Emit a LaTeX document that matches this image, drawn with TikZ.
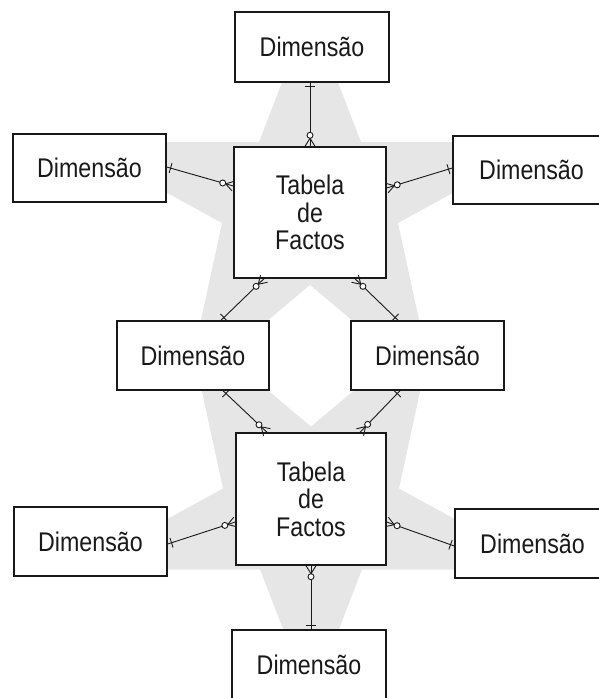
\documentclass[tikz,border=0pt]{standalone}
\usepackage{fontspec}
\setmainfont{Liberation Sans}[FakeStretch=0.86]
\usetikzlibrary{calc}

\definecolor{starfill}{RGB}{230,230,230}
\definecolor{ink}{RGB}{25,25,25}

\tikzset{
  box/.style={draw=ink, line width=1.4pt, fill=white, inner sep=0pt,
    text=ink, font=\fontsize{27}{27.5}\selectfont, align=center},
  link/.style={draw=ink, line width=0.9pt},
  starshape/.style={fill=starfill, draw=none},
}

% ER connector: single bar at the dimension end (#1),
% ring and crow's foot at the fact-table end (#2)
\newcommand\erlink[2]{%
  \draw[link] (#1) -- (#2);
  \draw[link] ($(#1)!4pt!(#2)!5pt!90:(#2)$) -- ($(#1)!4pt!(#2)!5pt!-90:(#2)$);
  \draw[link] ($(#2)!8pt!(#1)$) -- ($(#2)!5pt!90:(#1)$)
              ($(#2)!8pt!(#1)$) -- ($(#2)!5pt!-90:(#1)$);
  \draw[link, fill=white] ($(#2)!11pt!(#1)$) circle[radius=3pt];
}

\begin{document}
\begin{tikzpicture}[x=1pt, y=-1pt]
\useasboundingbox (0,0) rectangle (599,698);

% background stars behind the two fact tables
\fill[starshape] (310,10) -- (361,142) -- (546,142) -- (398,223) -- (434,389)
  -- (310,285) -- (186,389) -- (222,223) -- (74,142) -- (259,142) -- cycle;
\fill[starshape] (311,701.5) -- (362,569.5) -- (547,569.5) -- (399,488.5) -- (435,322.5)
  -- (311,426.5) -- (187,322.5) -- (223,488.5) -- (75,569.5) -- (260,569.5) -- cycle;

% fact tables
\node[box, minimum width=152pt, minimum height=131pt] (fT) at (310,212.5) {Tabela\\de\\Factos};
\node[box, minimum width=150pt, minimum height=132pt] (fB) at (311,499) {Tabela\\de\\Factos};

% dimensions
\node[box, minimum width=154pt, minimum height=70pt] (dT)  at (312,47)      {Dimensão};
\node[box, minimum width=153pt, minimum height=68pt] (dTL) at (89.5,168)    {Dimensão};
\node[box, minimum width=157pt, minimum height=68pt] (dTR) at (531.5,170)   {Dimensão};
\node[box, minimum width=152pt, minimum height=69pt] (dML) at (193,355.5)   {Dimensão};
\node[box, minimum width=153pt, minimum height=69pt] (dMR) at (427.5,355.5) {Dimensão};
\node[box, minimum width=153pt, minimum height=69pt] (dBL) at (90.5,541.5)  {Dimensão};
\node[box, minimum width=155pt, minimum height=69pt] (dBR) at (532.5,543.5) {Dimensão};
\node[box, minimum width=154pt, minimum height=69pt] (dB)  at (309,664.5)   {Dimensão};

% connector end points
\coordinate (e1d) at (fT.north |- dT.south);
\coordinate (e1f) at (fT.north);
\coordinate (e2d) at ($(dTL.east)+(0,-1)$);
\coordinate (e2f) at ($(fT.west)+(0,-26.5)$);
\coordinate (e3d) at ($(dTR.west)+(0,-2)$);
\coordinate (e3f) at ($(fT.east)+(0,-24.5)$);
\coordinate (e4d) at ($(dML.north)+(28,0)$);
\coordinate (e4f) at ($(fT.south)+(-46,0)$);
\coordinate (e5d) at ($(dMR.north)+(-29.5,0)$);
\coordinate (e5f) at ($(fT.south)+(45,0)$);
\coordinate (e6d) at ($(dML.south)+(30,0)$);
\coordinate (e6f) at ($(fB.north)+(-44,0)$);
\coordinate (e7d) at ($(dMR.south)+(-27.5,0)$);
\coordinate (e7f) at ($(fB.north)+(49,0)$);
\coordinate (e8d) at ($(dBL.east)+(0,2.5)$);
\coordinate (e8f) at ($(fB.west)+(0,23)$);
\coordinate (e9d) at ($(dBR.west)+(0,2.5)$);
\coordinate (e9f) at ($(fB.east)+(0,23)$);
\coordinate (e10d) at (fB.south |- dB.north);
\coordinate (e10f) at (fB.south);

\erlink{e1d}{e1f}
\erlink{e2d}{e2f}
\erlink{e3d}{e3f}
\erlink{e4d}{e4f}
\erlink{e5d}{e5f}
\erlink{e6d}{e6f}
\erlink{e7d}{e7f}
\erlink{e8d}{e8f}
\erlink{e9d}{e9f}
\erlink{e10d}{e10f}
\end{tikzpicture}
\end{document}
